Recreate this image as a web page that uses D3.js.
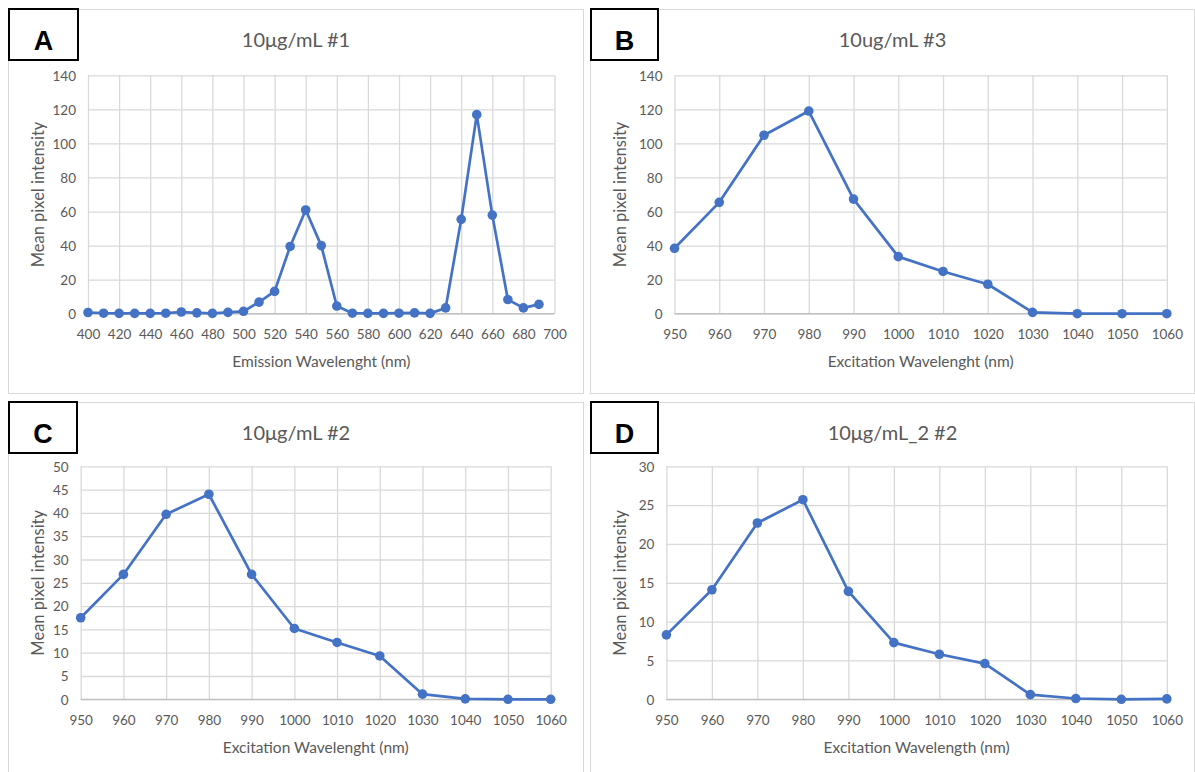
<!DOCTYPE html>
<html>
<head>
<meta charset="utf-8">
<script src="https://cdn.jsdelivr.net/npm/d3@7"></script>
<style>
  body { margin: 0; background: #fff; }
  text { font-family: Lato, "Open Sans", sans-serif; }
</style>
</head>
<body>
<div id="chart"></div>
<script>
// panel A: emission scan
const emissionWavelength = [400, 410, 420, 430, 440, 450, 460, 470, 480, 490, 500, 510, 520, 530, 540,
  550, 560, 570, 580, 590, 600, 610, 620, 630, 640, 650, 660, 670, 680, 690];
const intensityA = [0.7, 0.3, 0.2, 0.2, 0.2, 0.3, 1.0, 0.5, 0.2, 0.8, 1.4, 6.8, 13.1, 39.5, 60.9,
  40.0, 4.5, 0.3, 0.2, 0.2, 0.3, 0.5, 0.2, 3.4, 55.4, 116.9, 57.9, 8.3, 3.4, 5.5];

// panels B, C, D: excitation scans
const excitationWavelength = [950, 960, 970, 980, 990, 1000, 1010, 1020, 1030, 1040, 1050, 1060];
const intensityB = [38.4, 65.4, 104.8, 119.0, 67.3, 33.5, 24.8, 17.3, 0.8, 0, 0, 0];
const intensityC = [17.5, 26.8, 39.7, 44.0, 26.8, 15.2, 12.2, 9.3, 1.1, 0.1, 0, 0];
const intensityD = [8.3, 14.1, 22.7, 25.7, 13.9, 7.3, 5.8, 4.6, 0.6, 0.1, 0, 0.05];

// tick labels
const ticksEmission = [400, 420, 440, 460, 480, 500, 520, 540, 560, 580, 600, 620, 640, 660, 680, 700];
const ticksExcitation = [950, 960, 970, 980, 990, 1000, 1010, 1020, 1030, 1040, 1050, 1060];
const ticks140 = [0, 20, 40, 60, 80, 100, 120, 140];
const ticks50 = [0, 5, 10, 15, 20, 25, 30, 35, 40, 45, 50];
const ticks30 = [0, 5, 10, 15, 20, 25, 30];

const panels = [
  { letter: 'A', title: '10μg/mL #1', xLabel: 'Emission Wavelenght (nm)',
    xs: emissionWavelength, ys: intensityA, xTicks: ticksEmission, yTicks: ticks140,
    frame: [8.5, 9.5, 583.5, 393.5], tag: [8, 8, 79, 61],
    plot: { left: 88, right: 554.5, top: 75.3, bottom: 313.7 } },
  { letter: 'B', title: '10ug/mL #3', xLabel: 'Excitation Wavelenght (nm)',
    xs: excitationWavelength, ys: intensityB, xTicks: ticksExcitation, yTicks: ticks140,
    frame: [590.5, 9.5, 1194.5, 393.5], tag: [590, 8, 659, 61],
    plot: { left: 674.5, right: 1166.8, top: 75.3, bottom: 313.7 } },
  { letter: 'C', title: '10μg/mL #2', xLabel: 'Excitation Wavelenght (nm)',
    xs: excitationWavelength, ys: intensityC, xTicks: ticksExcitation, yTicks: ticks50,
    frame: [8.5, 402.5, 583.5, 790], tag: [8, 401, 78, 454],
    plot: { left: 80.7, right: 550.7, top: 466.3, bottom: 699.3 } },
  { letter: 'D', title: '10μg/mL_2 #2', xLabel: 'Excitation Wavelength (nm)',
    xs: excitationWavelength, ys: intensityD, xTicks: ticksExcitation, yTicks: ticks30,
    frame: [590.5, 402.5, 1194.5, 790], tag: [590, 401, 659, 454],
    plot: { left: 666.4, right: 1166.8, top: 466.3, bottom: 699.3 } }
];

const svg = d3.select('#chart')
  .append('svg')
  .attr('width', 1195)
  .attr('height', 772);

const drawPanel = (p) => {
  const g = svg.append('g');
  const [fx0, fy0, fx1, fy1] = p.frame;

  g.append('rect')
    .attr('x', fx0).attr('y', fy0)
    .attr('width', fx1 - fx0).attr('height', fy1 - fy0)
    .attr('fill', '#fff')
    .attr('stroke', '#d9d9d9');

  const x = d3.scaleLinear()
    .domain([p.xTicks[0], p.xTicks[p.xTicks.length - 1]])
    .range([p.plot.left, p.plot.right]);
  const y = d3.scaleLinear()
    .domain([0, p.yTicks[p.yTicks.length - 1]])
    .range([p.plot.bottom, p.plot.top]);

  // vertical gridlines + x tick labels
  const xAxis = g.append('g')
    .attr('transform', `translate(0,${p.plot.bottom})`)
    .call(d3.axisBottom(x).tickValues(p.xTicks).tickFormat(d3.format('d'))
      .tickSize(-(p.plot.bottom - p.plot.top)));
  // horizontal gridlines + y tick labels
  const yAxis = g.append('g')
    .attr('transform', `translate(${p.plot.left},0)`)
    .call(d3.axisLeft(y).tickValues(p.yTicks).tickFormat(d3.format('d'))
      .tickSize(-(p.plot.right - p.plot.left)));

  [xAxis, yAxis].forEach(a => {
    a.select('.domain').remove();
    a.selectAll('line').attr('stroke', '#d9d9d9').attr('stroke-width', 1.3);
    a.selectAll('text')
      .attr('fill', '#595959')
      .style('font-size', '13.5px');
  });
  xAxis.selectAll('text').attr('y', 20.5).attr('dy', '0.35em');
  yAxis.selectAll('text').attr('x', -12).attr('dy', '0.35em');

  g.append('line')
    .attr('x1', p.plot.left).attr('x2', p.plot.right)
    .attr('y1', y(0)).attr('y2', y(0))
    .attr('stroke', '#bfbfbf').attr('stroke-width', 1.3);

  const pts = p.xs.map((d, i) => [d, p.ys[i]]);
  const line = d3.line().x(d => x(d[0])).y(d => y(d[1]));

  g.append('path')
    .datum(pts)
    .attr('d', line)
    .attr('fill', 'none')
    .attr('stroke', '#4472c4')
    .attr('stroke-width', 2.7)
    .attr('stroke-linejoin', 'round');

  g.selectAll('.dot')
    .data(pts)
    .enter().append('circle')
    .attr('class', 'dot')
    .attr('cx', d => x(d[0]))
    .attr('cy', d => y(d[1]))
    .attr('r', 4.8)
    .attr('fill', '#4472c4');

  const midX = (p.plot.left + p.plot.right) / 2;
  const midY = (p.plot.top + p.plot.bottom) / 2;

  g.append('text')
    .attr('x', (fx0 + fx1) / 2)
    .attr('y', p.tag[1] + 32)
    .attr('dy', '0.35em')
    .attr('text-anchor', 'middle')
    .style('font-size', '20px')
    .attr('fill', '#595959')
    .text(p.title);

  g.append('text')
    .attr('x', midX)
    .attr('y', p.plot.bottom + 48)
    .attr('dy', '0.35em')
    .attr('text-anchor', 'middle')
    .style('font-size', '15.5px')
    .attr('fill', '#595959')
    .text(p.xLabel);

  g.append('text')
    .attr('transform', `translate(${fx0 + 30},${midY}) rotate(-90)`)
    .attr('dy', '0.35em')
    .attr('text-anchor', 'middle')
    .style('font-size', '16.5px')
    .attr('fill', '#595959')
    .text('Mean pixel intensity');

  // letter tag box
  const [tx0, ty0, tx1, ty1] = p.tag;
  g.append('rect')
    .attr('x', tx0 + 1).attr('y', ty0 + 1)
    .attr('width', tx1 - tx0 - 2).attr('height', ty1 - ty0 - 2)
    .attr('fill', '#fff')
    .attr('stroke', '#000')
    .attr('stroke-width', 2);
  g.append('text')
    .attr('x', (tx0 + tx1) / 2)
    .attr('y', ty0 + 42)
    .attr('text-anchor', 'middle')
    .style('font-family', '"Liberation Sans", Arial, sans-serif')
    .style('font-weight', 'bold')
    .style('font-size', '27px')
    .attr('fill', '#000')
    .text(p.letter);
};

panels.forEach(drawPanel);
</script>
</body>
</html>
